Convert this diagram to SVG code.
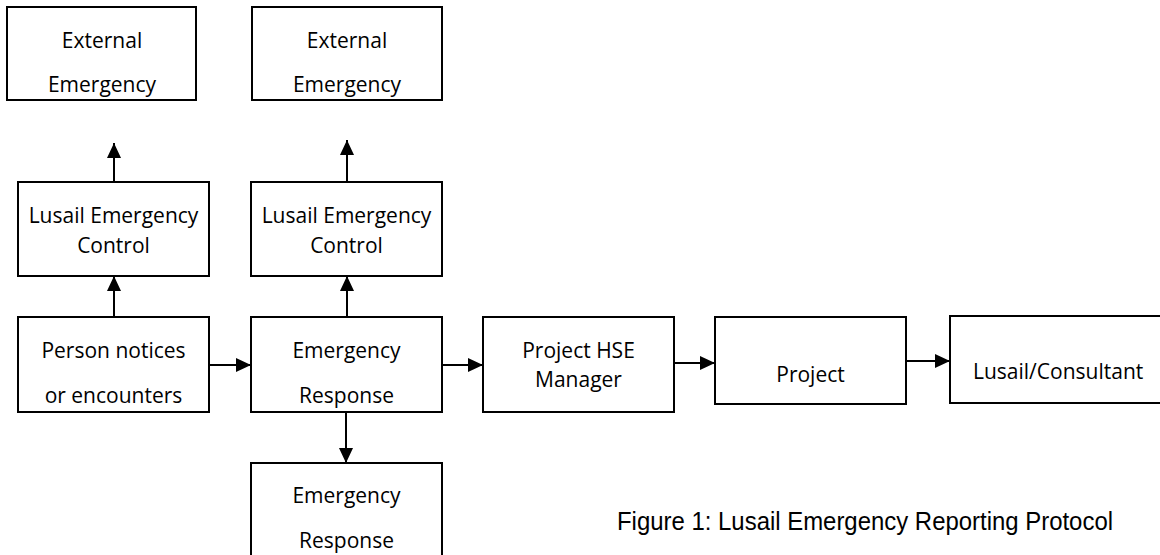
<svg xmlns="http://www.w3.org/2000/svg" width="1160" height="555" viewBox="0 0 1160 555">
<style>
.box{fill:#fff;stroke:#000;stroke-width:2}
.t{font-family:"Open Sans","Liberation Sans",sans-serif;font-size:21px;fill:#000;text-anchor:middle}
.c{stroke:#000;stroke-width:2;fill:none;marker-end:url(#ah)}
.cap{font-family:"Liberation Sans",Arial,sans-serif;font-size:25px;fill:#000}
</style>
<defs>
<marker id="ah" markerWidth="15" markerHeight="14" refX="15" refY="7" orient="auto" markerUnits="userSpaceOnUse">
<path d="M0,0 L15,7 L0,14 Z" fill="#000"/>
</marker>
</defs>
<rect width="1160" height="555" fill="#fff"/>
<g id="connectors">
<line class="c" x1="114" y1="182" x2="114" y2="143"/>
<line class="c" x1="347" y1="182" x2="347" y2="140"/>
<line class="c" x1="114" y1="317" x2="114" y2="276"/>
<line class="c" x1="347" y1="317" x2="347" y2="276"/>
<line class="c" x1="209" y1="365" x2="251" y2="365"/>
<line class="c" x1="442" y1="365" x2="483" y2="365"/>
<line class="c" x1="346" y1="412" x2="346" y2="463"/>
<line class="c" x1="674" y1="363" x2="715" y2="363"/>
<line class="c" x1="906" y1="361" x2="950" y2="361"/>
</g>
<g id="ext1">
<rect class="box" x="7" y="7" width="189" height="93"/>
<text class="t" x="102" y="48">External</text>
<text class="t" x="102" y="92">Emergency</text>
</g>
<g id="ext2">
<rect class="box" x="252" y="7" width="190" height="93"/>
<text class="t" x="347" y="48">External</text>
<text class="t" x="347" y="92">Emergency</text>
</g>
<g id="lec1">
<rect class="box" x="18" y="182" width="191" height="94"/>
<text class="t" x="113.5" y="222.5">Lusail Emergency</text>
<text class="t" x="113.5" y="252.5">Control</text>
</g>
<g id="lec2">
<rect class="box" x="251" y="182" width="191" height="94"/>
<text class="t" x="346.5" y="222.5">Lusail Emergency</text>
<text class="t" x="346.5" y="252.5">Control</text>
</g>
<g id="person">
<rect class="box" x="18" y="317" width="191" height="95"/>
<text class="t" x="113.5" y="358">Person notices</text>
<text class="t" x="113.5" y="402.5">or encounters</text>
</g>
<g id="er">
<rect class="box" x="251" y="317" width="191" height="95"/>
<text class="t" x="346.5" y="358">Emergency</text>
<text class="t" x="346.5" y="402.5">Response</text>
</g>
<g id="er2">
<rect class="box" x="251" y="463" width="191" height="100"/>
<text class="t" x="346.5" y="503">Emergency</text>
<text class="t" x="346.5" y="547.5">Response</text>
</g>
<g id="hse">
<rect class="box" x="483" y="317" width="191" height="95"/>
<text class="t" x="578.5" y="358">Project HSE</text>
<text class="t" x="578.5" y="387">Manager</text>
</g>
<g id="project">
<rect class="box" x="715" y="317" width="191" height="87"/>
<text class="t" x="810.5" y="382">Project</text>
</g>
<g id="lusail">
<rect class="box" x="950" y="316" width="220" height="87"/>
<text class="t" x="973" y="379" style="text-anchor:start">Lusail/Consultant</text>
</g>
<text class="cap" x="617" y="530" textLength="496" lengthAdjust="spacingAndGlyphs">Figure 1: Lusail Emergency Reporting Protocol</text>
</svg>
